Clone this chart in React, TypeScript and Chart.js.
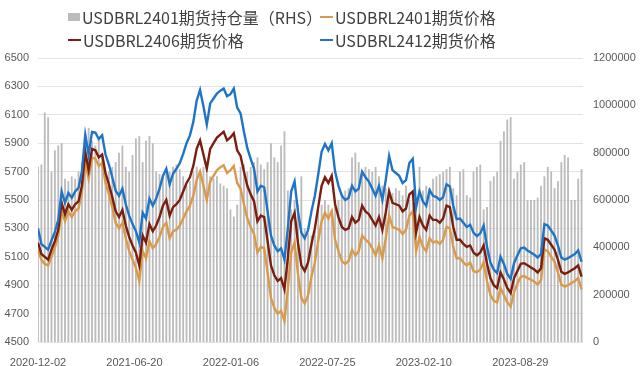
import React, { useEffect, useRef } from "react";
import { Chart, registerables } from "chart.js";

Chart.register(...registerables);

// ---- data ----
const START_DATE = "2020-12-02";
const DAY_STEP = 7; // weekly observations
const tickLabels = ["2020-12-02", "2021-06-20", "2022-01-06", "2022-07-25", "2023-02-10", "2023-08-29"];
const TICK_STEP_DAYS = 200;
const X_MAX_DAYS = 1130;

const openInterest = [
  740000, 750000, 970000, 950000, 720000, 810000, 830000, 840000, 690000, 680000,
  700000, 690000, 720000, 760000, 880000, 905000, 850000, 830000, 860000, 780000,
  700000, 720000, 740000, 760000, 800000, 830000, 740000, 720000, 790000, 860000,
  870000, 760000, 850000, 870000, 840000, 720000, 710000, 700000, 730000, 720000,
  740000, 750000, 730000, 700000, 660000, 680000, 720000, 740000, 720000, 740000,
  710000, 700000, 690000, 700000, 670000, 660000, 650000, 560000, 530000, 580000,
  740000, 750000, 720000, 740000, 760000, 780000, 750000, 730000, 760000, 840000,
  780000, 760000, 830000, 890000, 640000, 560000, 600000, 580000, 700000, 480000,
  460000, 450000, 470000, 560000, 580000, 600000, 580000, 560000, 590000, 600000,
  620000, 640000, 650000, 780000, 800000, 760000, 720000, 740000, 730000, 720000,
  740000, 700000, 660000, 650000, 640000, 630000, 650000, 640000, 620000, 660000,
  600000, 590000, 610000, 740000, 640000, 660000, 650000, 690000, 700000, 710000,
  720000, 730000, 740000, 650000, 620000, 720000, 730000, 620000, 610000, 720000,
  740000, 750000, 560000, 570000, 680000, 700000, 720000, 850000, 890000, 940000,
  950000, 690000, 720000, 750000, 760000, 600000, 600000, 600000, 610000, 660000,
  700000, 740000, 720000, 650000, 680000, 760000, 790000, 780000, 600000, 600000,
  690000, 730000,
];

const price2401 = [
  5150, 5080, 5050, 5040, 5100, 5165, 5250, 5420, 5350, 5420,
  5380, 5420, 5440, 5550, 5770, 5650, 5800, 5790, 5740, 5760,
  5620, 5540, 5450, 5340, 5300, 5340, 5230, 5140, 5080, 5020,
  4930, 5140, 5090, 5210, 5160, 5190, 5240, 5310, 5340, 5230,
  5280, 5290, 5320, 5370, 5420, 5460, 5530, 5640, 5700, 5600,
  5500, 5630, 5670, 5710, 5730, 5745, 5690, 5710, 5740, 5620,
  5580, 5470, 5370, 5310, 5260, 5130, 5170, 5160, 4990, 4810,
  4740, 4700, 4720, 4650, 4870, 5130, 5200, 4980, 4810, 4770,
  4830, 4960, 5060, 5210, 5350, 5410, 5370, 5420, 5220, 5140,
  5070, 5050, 5070, 5150, 5110, 5140, 5250, 5220, 5200, 5160,
  5110, 5180, 5090, 5230, 5390, 5310, 5300, 5290, 5260, 5290,
  5390, 5420, 5140, 5240, 5170, 5140, 5230, 5200, 5210, 5190,
  5220, 5310, 5300, 5170, 5090, 5090, 5060, 5040, 5060, 5000,
  4990, 5010, 5060, 4930, 4830, 4790, 4780, 4880, 4830, 4780,
  4750, 4850, 4910, 4960, 4965, 4950, 4940, 4925, 4905, 4935,
  5150, 5140, 5100, 5065, 4990, 4905, 4890, 4900, 4915, 4930,
  4950, 4870,
];

const price2406 = [
  5200, 5120, 5100, 5080, 5150, 5210, 5290, 5480, 5400, 5470,
  5430, 5470, 5490, 5600, 5840, 5710, 5860, 5850, 5800, 5820,
  5690, 5610, 5520, 5420, 5380, 5430, 5320, 5240, 5180, 5130,
  5040, 5250, 5200, 5330, 5280, 5320, 5380, 5460, 5500, 5390,
  5450, 5470, 5500, 5560, 5620, 5660, 5740, 5860, 5920, 5820,
  5720, 5860, 5900, 5940, 5960, 5980, 5920, 5940, 5970, 5850,
  5810, 5700, 5600, 5540, 5490, 5350, 5390, 5380, 5210, 5040,
  4970, 4930, 4950, 4870, 5090, 5350, 5410, 5200, 5040, 5000,
  5060, 5190, 5300, 5450, 5600, 5660, 5620, 5670, 5470, 5380,
  5310, 5290, 5300, 5380, 5340, 5360, 5460, 5420, 5400, 5360,
  5320, 5380, 5290, 5410, 5560, 5480, 5470, 5460, 5420, 5440,
  5540, 5560, 5270, 5380, 5320, 5290, 5390, 5360, 5360, 5340,
  5370, 5460, 5450, 5310, 5220, 5220, 5190, 5170, 5180, 5130,
  5110, 5130, 5180, 5050, 4950, 4900, 4880, 4990, 4940, 4880,
  4845, 4950, 5000, 5050, 5055, 5040, 5025, 5010, 4990, 5020,
  5230, 5220, 5185, 5150, 5080, 4995, 4980, 4990, 5005, 5020,
  5040, 4960,
];

const price2412 = [
  5300, 5190, 5170, 5150, 5215, 5275, 5360, 5560, 5480, 5550,
  5515, 5560, 5585, 5700, 5960, 5820, 5980, 5975, 5930, 5955,
  5820, 5750, 5660, 5565, 5530, 5580, 5470, 5390, 5330, 5280,
  5200, 5410, 5370, 5510, 5460, 5510, 5580, 5670, 5720, 5610,
  5685, 5720, 5760, 5825, 5900, 5955, 6050, 6200, 6275, 6160,
  6030, 6180, 6215, 6250, 6270, 6285, 6230, 6245, 6285, 6150,
  6110, 5980, 5865, 5790, 5720, 5560, 5600, 5590, 5420, 5250,
  5180, 5140, 5160, 5080, 5300, 5560, 5630, 5420, 5270, 5230,
  5290, 5420, 5530, 5680, 5840, 5895, 5850, 5900, 5700, 5600,
  5530, 5500, 5515, 5600, 5560, 5580, 5700, 5660, 5630, 5580,
  5530, 5600, 5500, 5640, 5810, 5710, 5690, 5670, 5620, 5640,
  5760, 5790, 5450, 5560, 5490, 5460, 5570, 5530, 5520, 5500,
  5520, 5610, 5595, 5460, 5365, 5370, 5340, 5310, 5325, 5270,
  5245, 5265, 5320, 5170, 5060, 5010, 4985, 5100, 5050, 4980,
  4945, 5055, 5110, 5160, 5165, 5145, 5130, 5115, 5095, 5120,
  5330, 5320, 5285, 5250, 5180, 5095, 5080, 5090, 5105, 5120,
  5145, 5065,
];

const seriesNames = {
  oi: "USDBRL2401期货持仓量（RHS）",
  p2401: "USDBRL2401期货价格",
  p2406: "USDBRL2406期货价格",
  p2412: "USDBRL2412期货价格",
};

const COLORS = {
  oi: "#bcbcbc",
  p2401: "#d99a4c",
  p2406: "#7a1f0f",
  p2412: "#1f74c6",
};

const toXY = (arr: number[]) => arr.map((v, i) => ({ x: i * DAY_STEP, y: v }));
const TICK_FONT = { family: "'Liberation Sans', Arial, sans-serif", size: 11 };

export default function App() {
  const ref = useRef<HTMLCanvasElement | null>(null);

  useEffect(() => {
    document.body.style.margin = "0";
    const canvas = ref.current;
    if (!canvas) return;
    const lineDs = (label: string, data: number[], color: string, order: number) => ({
      type: "line" as const,
      label,
      data: toXY(data),
      borderColor: color,
      backgroundColor: color,
      borderWidth: 2.4,
      pointRadius: 0,
      tension: 0,
      yAxisID: "y",
      order,
    });
    const chart = new Chart(canvas, {
      data: {
        datasets: [
          lineDs(seriesNames.p2412, price2412, COLORS.p2412, 1),
          lineDs(seriesNames.p2406, price2406, COLORS.p2406, 2),
          lineDs(seriesNames.p2401, price2401, COLORS.p2401, 3),
          {
            type: "bar",
            label: seriesNames.oi,
            data: toXY(openInterest),
            backgroundColor: COLORS.oi,
            borderWidth: 0,
            barPercentage: 0.55,
            categoryPercentage: 1,
            yAxisID: "y1",
            order: 10,
          },
        ],
      } as any,
      options: {
        responsive: false,
        animation: false,
        devicePixelRatio: 1,
        layout: { padding: { top: 58, left: 0, right: 0, bottom: 0 } },
        plugins: {
          legend: { display: false },
          tooltip: { enabled: false },
        },
        scales: {
          x: {
            type: "linear",
            offset: false,
            min: 0,
            max: X_MAX_DAYS,
            grid: { display: false, offset: false },
            border: { display: false },
            ticks: {
              stepSize: TICK_STEP_DAYS,
              includeBounds: false,
              autoSkip: false,
              maxRotation: 0,
              padding: 6,
              color: "#595959",
              font: TICK_FONT,
              callback: (v: any) => {
                const n = Number(v);
                return n % TICK_STEP_DAYS === 0 ? tickLabels[Math.round(n / TICK_STEP_DAYS)] ?? "" : "";
              },
            },
            afterFit: (s: any) => {
              s.height = 24;
            },
          },
          y: {
            position: "left",
            min: 4500,
            max: 6500,
            grid: { color: "#e3e3e3", lineWidth: 1, drawTicks: false },
            border: { display: false },
            ticks: {
              stepSize: 200,
              padding: 9,
              color: "#595959",
              font: TICK_FONT,
              callback: (v: any) => String(v),
            },
            afterFit: (s: any) => {
              s.width = 38;
            },
          },
          y1: {
            position: "right",
            min: 0,
            max: 1200000,
            grid: { display: false, drawTicks: false },
            border: { display: false },
            ticks: {
              stepSize: 200000,
              padding: 10,
              color: "#595959",
              font: TICK_FONT,
              callback: (v: any) => String(v),
            },
            afterFit: (s: any) => {
              s.width = 57;
            },
          },
        },
      } as any,
    });
    return () => chart.destroy();
  }, []);

  const legendText: React.CSSProperties = {
    fontFamily: "'Noto Sans CJK SC', 'Noto Sans', sans-serif",
    fontSize: 16,
    color: "#404040",
    whiteSpace: "nowrap",
    lineHeight: "20px",
  };

  const item = (left: number, top: number, marker: React.ReactNode, text: string) => (
    <div style={{ position: "absolute", left, top, display: "flex", alignItems: "center", ...legendText }}>
      {marker}
      <span style={{ marginLeft: 2 }}>{text}</span>
    </div>
  );

  const box = <span style={{ display: "inline-block", width: 12, height: 8, background: COLORS.oi }} />;
  const line = (c: string) => <span style={{ display: "inline-block", width: 13, height: 2, background: c }} />;

  return (
    <div style={{ position: "relative", width: 640, height: 366, background: "#fff", overflow: "hidden" }}>
      <canvas ref={ref} width={640} height={366} style={{ display: "block", width: 640, height: 366 }} />
      {item(68, 7, box, seriesNames.oi)}
      {item(320, 7, line(COLORS.p2401), seriesNames.p2401)}
      {item(68, 30, line(COLORS.p2406), seriesNames.p2406)}
      {item(320, 30, line(COLORS.p2412), seriesNames.p2412)}
    </div>
  );
}
